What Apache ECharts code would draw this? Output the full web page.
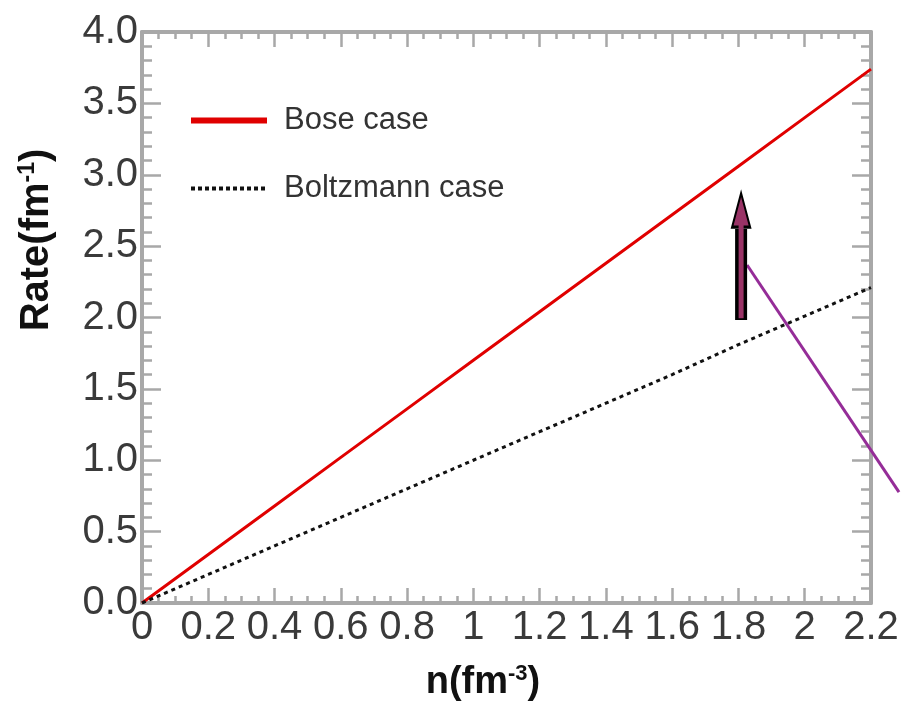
<!DOCTYPE html>
<html>
<head>
<meta charset="utf-8">
<script src="https://cdn.jsdelivr.net/npm/echarts@6/dist/echarts.min.js"></script>
<style>
html,body{margin:0;padding:0;background:#fff;}
#chart{width:902px;height:703px;}
</style>
</head>
<body>
<div id="chart"></div>
<script>
// ---- data ----
const densities = [0, 0.2, 0.4, 0.6, 0.8, 1.0, 1.2, 1.4, 1.6, 1.8, 2.0, 2.2];
const boseRate = [0, 0.34, 0.68, 1.02, 1.36, 1.70, 2.04, 2.38, 2.72, 3.06, 3.40, 3.74];
const boltzmannRate = [0, 0.20, 0.40, 0.60, 0.80, 1.00, 1.20, 1.40, 1.60, 1.81, 2.01, 2.21];
const seriesNames = ['Bose case', 'Boltzmann case'];
const arrowX = 1.808;
const arrowShaft = [1.982, 2.62];
const arrowInner = [1.995, 2.70];
const arrowHead = 2.752;
const pointerLine = [1.826, 2.368, 2.2845, 0.777];
const xTicks = {min: 0, max: 2.2, step: 0.2};
const yTicks = {min: 0, max: 4.0, step: 0.5};

const FONT = '"Liberation Sans", Arial, sans-serif';
const axisGray = '#a8a8a8';

function pairs(xs, ys) { return xs.map((x, i) => [x, ys[i]]); }

function makeX(pos, showLabel) {
  return {
    type: 'value', position: pos, min: xTicks.min, max: xTicks.max, interval: xTicks.step,
    axisLine: {show: true, onZero: false, lineStyle: {color: axisGray, width: 4}},
    axisTick: {show: true, inside: true, length: 15, lineStyle: {color: axisGray, width: 2.5}},
    minorTick: {show: true, splitNumber: 4, length: 7, lineStyle: {color: axisGray, width: 2.5}},
    splitLine: {show: false},
    axisLabel: {show: showLabel, fontSize: 40, fontFamily: FONT, color: '#3a3a3a', margin: 5}
  };
}
function makeY(pos, showLabel) {
  return {
    type: 'value', position: pos, min: yTicks.min, max: yTicks.max, interval: yTicks.step,
    axisLine: {show: true, onZero: false, lineStyle: {color: axisGray, width: 4}},
    axisTick: {show: true, inside: true, length: 19, lineStyle: {color: axisGray, width: 2.5}},
    minorTick: {show: true, splitNumber: 5, length: 10, lineStyle: {color: axisGray, width: 2.5}},
    splitLine: {show: false},
    axisLabel: {show: showLabel, fontSize: 40, fontFamily: FONT, color: '#3a3a3a', margin: 4,
      formatter: v => v.toFixed(1)}
  };
}

const chart = echarts.init(document.getElementById('chart'), null, {renderer: 'canvas'});
chart.setOption({
  animation: false,
  backgroundColor: '#fff',
  grid: {left: 142, right: 31, top: 32, bottom: 100, containLabel: false},
  xAxis: [makeX('bottom', true), makeX('top', false)],
  yAxis: [makeY('left', true), makeY('right', false)],
  legend: {
    orient: 'vertical', left: 188, top: 105, padding: 0,
    itemWidth: 76, itemHeight: 30, itemGap: 37,
    textStyle: {fontSize: 31, fontFamily: FONT, color: '#333', padding: [0, 0, 0, 12], lineHeight: 30},
    data: [
      {name: seriesNames[0], lineStyle: {width: 6}, itemStyle: {opacity: 0}},
      {name: seriesNames[1], lineStyle: {width: 4, type: [4, 3]}, itemStyle: {opacity: 0}}
    ]
  },
  graphic: [
    {
      type: 'text', x: 483, y: 683,
      style: {
        text: '{a|n(fm}{s|-3}{a|)}', align: 'center', verticalAlign: 'middle',
        rich: {
          a: {fontSize: 38, fontWeight: 'bold', fontFamily: FONT, fill: '#111', lineHeight: 40},
          s: {fontSize: 22, fontWeight: 'bold', fontFamily: FONT, fill: '#111', lineHeight: 22, verticalAlign: 'top'}
        }
      }
    },
    {
      type: 'text', x: 37, y: 240, rotation: Math.PI / 2,
      style: {
        text: '{a|Rate(fm}{s|-1}{a|)}', align: 'center', verticalAlign: 'middle',
        rich: {
          a: {fontSize: 40, fontWeight: 'bold', fontFamily: FONT, fill: '#111', lineHeight: 42},
          s: {fontSize: 23, fontWeight: 'bold', fontFamily: FONT, fill: '#111', lineHeight: 23, verticalAlign: 'top'}
        }
      }
    }
  ],
  series: [
    {
      name: seriesNames[0], type: 'line', data: pairs(densities, boseRate),
      symbol: 'none', lineStyle: {color: '#e00000', width: 3}, itemStyle: {color: '#e00000'}, z: 3
    },
    {
      name: seriesNames[1], type: 'line', data: pairs(densities, boltzmannRate),
      symbol: 'none', lineStyle: {color: '#111', width: 3, type: [4, 4]}, itemStyle: {color: '#111'}, z: 3
    },
    {
      name: 'pointer', type: 'custom', clip: false, z: 4,
      data: [pointerLine],
      encode: {x: [0, 2], y: [1, 3]},
      renderItem: function (params, api) {
        const p1 = api.coord([api.value(0), api.value(1)]);
        const p2 = api.coord([api.value(2), api.value(3)]);
        return {
          type: 'line',
          shape: {x1: p1[0], y1: p1[1], x2: p2[0], y2: p2[1]},
          style: {stroke: '#952d98', lineWidth: 3}
        };
      }
    },
    {
      name: 'arrowShaft', type: 'line', data: [[arrowX, arrowShaft[0]], [arrowX, arrowShaft[1]]],
      symbol: 'none', lineStyle: {color: '#000', width: 12, cap: 'butt'}, z: 5
    },
    {
      name: 'arrowInner', type: 'line', data: [[arrowX, arrowInner[0]], [arrowX, arrowInner[1]]],
      symbol: 'none', lineStyle: {color: '#993366', width: 5, cap: 'butt'}, z: 7
    },
    {
      name: 'arrowHead', type: 'scatter', data: [[arrowX, arrowHead]],
      symbol: 'triangle', symbolSize: [18, 34],
      itemStyle: {color: '#993366', borderColor: '#000', borderWidth: 2.5, opacity: 1}, z: 6
    }
  ]
});
</script>
</body>
</html>
